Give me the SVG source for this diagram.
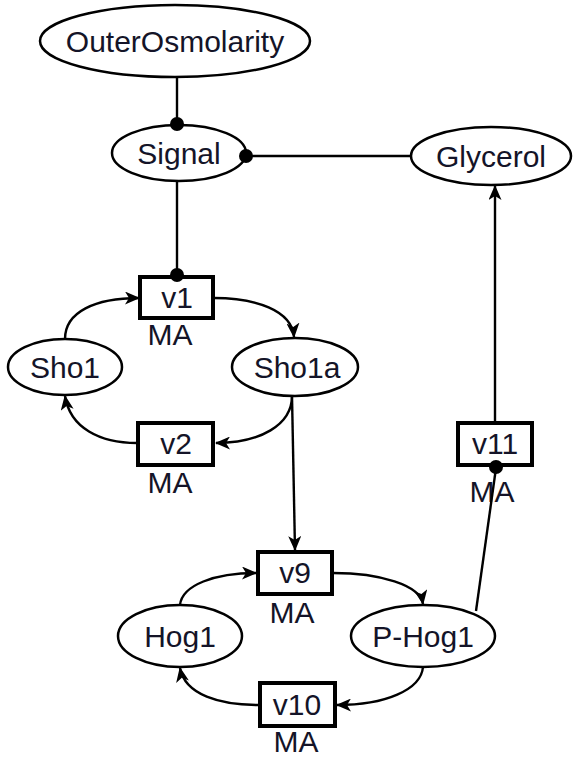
<svg xmlns="http://www.w3.org/2000/svg" width="573" height="757" viewBox="0 0 573 757">
<style>
.n ellipse{fill:#fff;stroke:#000;stroke-width:2.5}
.r rect{fill:#fff;stroke:#000;stroke-width:4}
text{font-family:"Liberation Sans",Arial,sans-serif;font-size:30px;fill:#141428;text-anchor:middle}
.c path,.c line{fill:none;stroke:#000;stroke-width:2.4}
.dot{fill:#000}
</style>
<defs>
<marker id="ah" markerUnits="userSpaceOnUse" markerWidth="15" markerHeight="13" refX="14" refY="6.5" orient="auto">
<path d="M0,0 L15,6.5 L0,13 L4,6.5 Z" fill="#000"/>
</marker>
</defs>
<g class="n" id="OuterOsmolarity"><ellipse cx="175" cy="41" rx="135" ry="36"/><text x="175" y="52">OuterOsmolarity</text></g>
<g class="n" id="Signal"><ellipse cx="179" cy="153" rx="67" ry="28"/><text x="179" y="164">Signal</text></g>
<g class="n" id="Glycerol"><ellipse cx="491" cy="156" rx="80" ry="29"/><text x="491" y="167">Glycerol</text></g>
<g class="n" id="Sho1"><ellipse cx="65" cy="367" rx="57" ry="28"/><text x="65" y="378">Sho1</text></g>
<g class="n" id="Sho1a"><ellipse cx="295" cy="367" rx="63" ry="29"/><text x="297" y="378">Sho1a</text></g>
<g class="n" id="Hog1"><ellipse cx="180" cy="636" rx="62" ry="31"/><text x="180" y="647">Hog1</text></g>
<g class="n" id="P-Hog1"><ellipse cx="423" cy="636" rx="72" ry="31"/><text x="423" y="647">P-Hog1</text></g>
<g class="r" id="v1"><rect x="140" y="277" width="73" height="41"/><text x="177" y="308">v1</text><text x="170" y="345">MA</text></g>
<g class="r" id="v2"><rect x="138" y="423" width="75" height="42"/><text x="176" y="454">v2</text><text x="170" y="493">MA</text></g>
<g class="r" id="v9"><rect x="258" y="552" width="74" height="42"/><text x="295" y="583">v9</text><text x="292" y="623">MA</text></g>
<g class="r" id="v10"><rect x="260" y="683" width="75" height="43"/><text x="297" y="715">v10</text><text x="296" y="752">MA</text></g>
<g class="r" id="v11"><rect x="458" y="423" width="74" height="42"/><text x="495" y="454">v11</text><text x="492" y="502">MA</text></g>
<g class="c" id="connectors">
<line x1="177" y1="77" x2="177" y2="125"/>
<line x1="246" y1="156" x2="411" y2="156"/>
<line x1="177" y1="181" x2="177" y2="276"/>
<path d="M65,339 C65,312 95,298 139,298" marker-end="url(#ah)"/>
<path d="M214,298 C255,298 292,310 294,337" marker-end="url(#ah)"/>
<path d="M292,396 C292,425 260,443 216,443" marker-end="url(#ah)"/>
<path d="M137,443 C100,443 70,428 65,396" marker-end="url(#ah)"/>
<line x1="292" y1="396" x2="295" y2="550" marker-end="url(#ah)"/>
<path d="M180,605 C182,585 215,573 256,573" marker-end="url(#ah)"/>
<path d="M333,573 C380,573 420,585 423,604" marker-end="url(#ah)"/>
<path d="M423,667 C421,690 385,705 337,705" marker-end="url(#ah)"/>
<path d="M259,705 C220,705 185,695 180,668" marker-end="url(#ah)"/>
<line x1="495" y1="421" x2="495" y2="186" marker-end="url(#ah)"/>
<line x1="476" y1="611" x2="496" y2="468"/>
<circle class="dot" cx="177" cy="124" r="7"/>
<circle class="dot" cx="246" cy="156" r="7"/>
<circle class="dot" cx="177" cy="275" r="7"/>
<circle class="dot" cx="496" cy="467" r="7"/>
</g>
</svg>
